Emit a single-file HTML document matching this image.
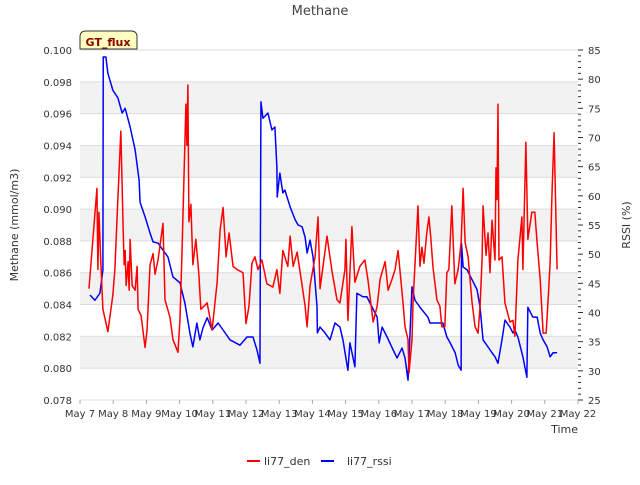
<!DOCTYPE html>
<html><head><meta charset="utf-8"><style>
body{margin:0;background:#fff;font-family:"Liberation Sans",sans-serif}
svg text{font-family:"DejaVu Sans","Liberation Sans",sans-serif}
</style></head><body>
<svg id="chart" width="640" height="480" xmlns="http://www.w3.org/2000/svg">
<rect width="640" height="480" fill="#fff"/>
<g id="bands"></g><g id="grid"></g><g id="axes"></g><g id="series"></g>
<text x="320" y="15" text-anchor="middle" font-size="13" fill="#444">Methane</text>
<text transform="translate(18,225) rotate(-90)" text-anchor="middle" font-size="11" fill="#333">Methane (mmol/m3)</text>
<text transform="translate(630,225) rotate(-90)" text-anchor="middle" font-size="11" fill="#333">RSSI (%)</text>
<text x="578" y="433" text-anchor="end" font-size="11" fill="#333">Time</text>
<g>
<path d="M80,49 L80,37 Q80,31 86,31 L131,31 Q137,31 137,37 L137,49 Z" fill="#ffffc0" stroke="#333"/>
<text x="108" y="46" text-anchor="middle" font-size="11" font-weight="bold" fill="#8b0000">GT_flux</text></g>
<g>
<line x1="247" y1="461" x2="260" y2="461" stroke="#f00" stroke-width="2"/>
<text x="264" y="465" font-size="11" fill="#333">li77_den</text>
<line x1="321" y1="461" x2="334" y2="461" stroke="#00f" stroke-width="2"/>
<text x="347" y="465" font-size="11" fill="#333">li77_rssi</text></g>
</svg>
<script>
const xTickLabels=["May 7","May 8","May 9","May 10","May 11","May 12","May 13","May 14","May 15","May 16","May 17","May 18","May 19","May 20","May 21","May 22"];
const yTicks=[0.078,0.080,0.082,0.084,0.086,0.088,0.090,0.092,0.094,0.096,0.098,0.100];
const y2Ticks=[25,30,35,40,45,50,55,60,65,70,75,80,85];
const denT=[0.27,0.51,0.54,0.57,0.63,0.69,0.84,0.99,1.05,1.14,1.23,1.30,1.33,1.36,1.39,1.45,1.48,1.51,1.57,1.66,1.72,1.75,1.84,1.96,2.02,2.11,2.20,2.26,2.35,2.50,2.56,2.71,2.80,2.95,3.01,3.07,3.19,3.22,3.25,3.28,3.34,3.40,3.49,3.58,3.64,3.83,3.98,4.13,4.22,4.31,4.40,4.49,4.61,4.73,4.91,5.00,5.09,5.18,5.27,5.36,5.48,5.63,5.81,5.93,6.02,6.11,6.26,6.33,6.42,6.54,6.69,6.78,6.84,6.93,7.08,7.17,7.23,7.32,7.44,7.59,7.74,7.83,7.98,8.01,8.07,8.19,8.28,8.43,8.58,8.67,8.83,8.95,9.04,9.19,9.28,9.40,9.49,9.58,9.73,9.79,9.88,9.91,10.00,10.03,10.18,10.24,10.30,10.36,10.45,10.51,10.57,10.63,10.75,10.84,10.90,10.99,11.05,11.11,11.20,11.29,11.39,11.48,11.54,11.60,11.69,11.81,11.90,11.99,12.05,12.11,12.14,12.23,12.29,12.35,12.41,12.50,12.53,12.56,12.59,12.62,12.71,12.80,12.95,13.04,13.10,13.19,13.31,13.34,13.43,13.49,13.61,13.70,13.76,13.86,13.95,14.04,14.10,14.16,14.22,14.28,14.34,14.37];
const denV=[0.0850,0.0913,0.0862,0.0898,0.0865,0.0837,0.0823,0.0846,0.0862,0.0906,0.0949,0.0887,0.0865,0.0874,0.0852,0.0867,0.0849,0.0881,0.0852,0.0849,0.0864,0.0837,0.0833,0.0813,0.0824,0.0865,0.0872,0.0859,0.0868,0.0891,0.0843,0.0832,0.0818,0.0810,0.0830,0.0871,0.0966,0.0940,0.0978,0.0892,0.0903,0.0865,0.0881,0.0859,0.0837,0.0841,0.0824,0.0854,0.0887,0.0901,0.0870,0.0885,0.0864,0.0862,0.0860,0.0828,0.0839,0.0866,0.0870,0.0862,0.0868,0.0853,0.0851,0.0862,0.0847,0.0874,0.0864,0.0883,0.0864,0.0873,0.0852,0.0839,0.0826,0.0852,0.0870,0.0895,0.0850,0.0864,0.0883,0.0861,0.0843,0.0841,0.0862,0.0881,0.0830,0.0889,0.0854,0.0864,0.0868,0.0856,0.0829,0.0839,0.0856,0.0867,0.0849,0.0856,0.0862,0.0874,0.0841,0.0826,0.0818,0.0797,0.0818,0.0841,0.0902,0.0864,0.0876,0.0866,0.0886,0.0895,0.0881,0.0864,0.0843,0.0839,0.0826,0.0826,0.0860,0.0862,0.0902,0.0853,0.0862,0.0879,0.0913,0.0879,0.0870,0.0841,0.0826,0.0822,0.0839,0.0868,0.0902,0.0871,0.0885,0.0860,0.0893,0.0868,0.0926,0.0906,0.0966,0.0868,0.0870,0.0841,0.0829,0.0830,0.0820,0.0868,0.0895,0.0862,0.0942,0.0881,0.0898,0.0898,0.0881,0.0856,0.0822,0.0822,0.0843,0.0866,0.0912,0.0948,0.0890,0.0862];
const rssiT=[0.30,0.45,0.60,0.69,0.70,0.78,0.84,0.99,1.14,1.27,1.36,1.51,1.66,1.78,1.81,1.96,2.11,2.20,2.35,2.50,2.65,2.80,3.01,3.16,3.31,3.40,3.52,3.61,3.70,3.83,3.98,4.16,4.31,4.52,4.82,5.03,5.21,5.33,5.42,5.45,5.51,5.66,5.78,5.87,5.93,5.94,6.02,6.11,6.17,6.33,6.48,6.57,6.69,6.78,6.84,6.93,7.02,7.14,7.15,7.23,7.38,7.53,7.68,7.83,7.92,8.07,8.13,8.28,8.34,8.52,8.64,8.80,8.95,9.01,9.10,9.25,9.43,9.55,9.70,9.79,9.88,10.00,10.09,10.24,10.48,10.54,10.93,11.05,11.14,11.30,11.39,11.48,11.49,11.54,11.66,11.81,11.96,12.05,12.14,12.29,12.41,12.50,12.59,12.71,12.80,12.95,13.04,13.10,13.19,13.34,13.46,13.49,13.64,13.77,13.86,13.95,14.07,14.16,14.25,14.37];
const rssiV=[43.0,42.1,43.3,47.3,83.8,83.8,81.0,78.1,76.8,74.2,75.0,71.8,67.9,62.7,58.9,56.4,53.6,52.1,51.9,50.7,49.5,46.1,45.1,41.6,36.5,34.1,38.2,35.3,37.3,39.1,37.0,38.2,37.0,35.3,34.4,35.8,35.8,33.6,31.3,76.1,73.3,74.2,71.3,71.8,64.9,59.8,63.9,60.5,61.0,58.1,55.9,55.0,54.7,52.9,50.2,52.4,49.5,40.9,36.5,37.5,36.5,35.3,38.2,37.5,35.3,30.1,34.8,30.7,43.3,42.7,42.7,40.9,39.2,34.8,37.5,35.8,33.6,32.2,33.9,32.2,28.4,44.4,42.1,40.9,39.2,38.2,38.2,35.8,34.9,33.1,31.0,30.1,51.9,47.8,47.3,45.6,43.9,40.9,35.3,34.1,33.1,32.4,31.3,35.3,38.7,37.5,36.5,37.0,35.8,32.4,28.9,40.9,39.2,39.2,36.5,35.3,34.1,32.4,33.1,33.1];
const L=80,R=578,T=50,B=400;
const xS=d=>L+d*(R-L)/15;
const yS=v=>B-(v-0.078)/0.022*(B-T);
const y2S=v=>B-(v-25)/60*(B-T);
const NS="http://www.w3.org/2000/svg";
function mk(tag,attrs,parent){const e=document.createElementNS(NS,tag);for(const k in attrs)e.setAttribute(k,attrs[k]);document.getElementById(parent).appendChild(e);return e;}
for(let i=0;i<yTicks.length-1;i++){
  if(i%2===1){const r=mk('rect',{x:L,y:yS(yTicks[i+1]),width:R-L,height:yS(yTicks[i])-yS(yTicks[i+1]),fill:'#f2f2f2'},'bands');
  
  }
}
yTicks.forEach(v=>{
  const l=mk('line',{x1:L,x2:R,y1:yS(v),y2:yS(v),stroke:'#dcdcdc','stroke-width':1},'grid');
  
  
  const t=mk('text',{x:L-8,y:yS(v)+4,'text-anchor':'end','font-size':10,fill:'#333'},'axes');t.textContent=v.toFixed(3);
  
  
});
y2Ticks.forEach(v=>{
  const t=mk('text',{x:R+10,y:y2S(v)+4,'font-size':10,fill:'#333'},'axes');t.textContent=v;
  
  
});
for(let v=25;v<=85;v++){const l=mk('line',{x1:R,x2:R+(v%5===0?5:3),y1:y2S(v),y2:y2S(v),stroke:'#333','stroke-width':1},'axes');
  
  }
xTickLabels.forEach((s,i)=>{
  const l=mk('line',{x1:xS(i),x2:xS(i),y1:B,y2:B+4,stroke:'#aaa'},'axes');
  
  
  const t=mk('text',{x:xS(i),y:B+17,'text-anchor':'middle','font-size':10,fill:'#333'},'axes');t.textContent=s;
  
  
});
const pr=mk('polyline',{points:rssiT.map((t,i)=>xS(t)+','+y2S(rssiV[i])).join(' '),fill:'none',stroke:'#00f','stroke-width':1.5,'stroke-linejoin':'round'},'series');


const pd=mk('polyline',{points:denT.map((t,i)=>xS(t)+','+yS(denV[i])).join(' '),fill:'none',stroke:'#f00','stroke-width':1.5,'stroke-linejoin':'round'},'series');


</script>
</body></html>
